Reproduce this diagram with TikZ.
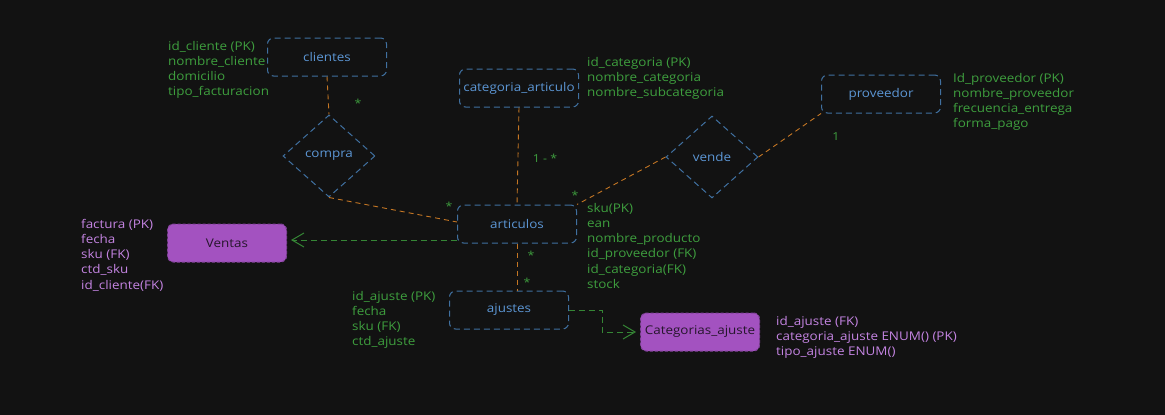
\documentclass[tikz,border=0pt]{standalone}
\usepackage{fontspec}
\setmainfont[FakeStretch=1.12]{Open Sans}
\usetikzlibrary{shapes.geometric,arrows.meta}
\definecolor{bg}{RGB}{18,18,18}
\definecolor{bstroke}{RGB}{64,112,160}
\definecolor{btext}{RGB}{92,150,212}
\definecolor{gtext}{RGB}{62,158,62}
\definecolor{otext}{RGB}{196,118,36}
\definecolor{pfill}{RGB}{163,82,192}
\definecolor{ptext}{RGB}{196,132,226}
\definecolor{pdark}{RGB}{38,22,44}
\tikzset{
  ent/.style={draw=bstroke, line width=1pt, dash pattern=on 6pt off 4pt, rounded corners=6pt,
    minimum width=119pt, minimum height=38pt, inner sep=0pt, text=btext, font=\fontsize{12}{14}\selectfont},
  rel/.style={draw=bstroke, line width=1pt, dash pattern=on 6pt off 4pt, diamond, inner sep=0pt,
    minimum width=92pt, minimum height=82pt, text=btext, font=\fontsize{12}{14}\selectfont},
  pent/.style={fill=pfill, draw=pfill!80!black, line width=1pt, dash pattern=on 3pt off 2pt, rounded corners=6pt,
    minimum width=119pt, minimum height=38pt, inner sep=0pt, text=pdark, font=\fontsize{12}{14}\selectfont},
  attrs/.style={anchor=north west, inner sep=0pt, align=left, text=gtext, font=\fontsize{12}{15.2}\selectfont},
  pattrs/.style={attrs, text=ptext},
  card/.style={inner sep=0pt, text=gtext, font=\fontsize{11}{13}\selectfont},
  oline/.style={draw=otext, line width=0.9pt, dash pattern=on 5pt off 4pt},
  gline/.style={draw=gtext!85!black, line width=1pt, dash pattern=on 6pt off 4pt},
  garrow/.style={gline, -{Straight Barb[length=12pt,width=14pt,line width=1pt]}}
}
\begin{document}
\begin{tikzpicture}[x=1pt,y=-1pt]
\useasboundingbox[fill=bg] (0,0) rectangle (1165,415);
% entities
\node[ent] (cli) at (327,57) {clientes};
\node[ent] (cat) at (519,88) {categoria\_articulo};
\node[ent] (prov) at (881,94) {proveedor};
\node[ent] (art) at (517,224) {articulos};
\node[ent] (aju) at (509,310) {ajustes};
\node[pent] (ven) at (227,243) {Ventas};
\node[pent] (caj) at (700,332) {Categorias\_ajuste};
% relations
\node[rel] (compra) at (329,156) {compra};
\node[rel] (vende) at (712,157) {vende};
% attributes
\node[attrs] (acli) at (168,41) {id\_cliente (PK)\\nombre\_cliente\\domicilio\\tipo\_facturacion};
\node[attrs] (acat) at (587,57) {id\_categoria (PK)\\nombre\_categoria\\nombre\_subcategoria};
\node[attrs] (aprov) at (953,73) {Id\_proveedor (PK)\\nombre\_proveedor\\frecuencia\_entrega\\forma\_pago};
\node[attrs] (aart) at (587,203) {sku(PK)\\ean\\nombre\_producto\\id\_proveedor (FK)\\id\_categoria(FK)\\stock};
\node[attrs] (aaju) at (352,291) {id\_ajuste (PK)\\fecha\\sku (FK)\\ctd\_ajuste};
\node[pattrs] (aven) at (81,219) {factura (PK)\\fecha\\sku (FK)\\ctd\_sku\\id\_cliente(FK)};
\node[pattrs] (acaj) at (776,316) {id\_ajuste (FK)\\categoria\_ajuste ENUM() (PK)\\tipo\_ajuste ENUM()};
% cardinalities
\node[card] (c1) at (358,103) {*};
\node[card] (c2) at (449,206) {*};
\node[card] (c3) at (545,158) {1 - *};
\node[card] (c4) at (575,195) {*};
\node[card] (c5) at (836,137) {1};
\node[card] (c6) at (531,255) {*};
\node[card] (c7) at (527,282) {*};
% connectors
\draw[oline] (cli.south) -- (compra.north);
\draw[oline] (compra.south) -- ([yshift=2pt]art.west);
\draw[oline] (cat.south) -- (art.north);
\draw[oline] (vende.west) -- (art.north east);
\draw[oline] (vende.east) -- (prov.south west);
\draw[oline] (art.south) -- (art.south |- aju.north);
\draw[garrow, shorten >=4pt] ([yshift=-16pt]art.west) -- ([yshift=-16pt]art.west -| ven.east);
\coordinate (k1) at (602,310);
\draw[garrow, shorten >=4pt] (aju.east) -- (k1) |- (caj.west);
\end{tikzpicture}
\end{document}
